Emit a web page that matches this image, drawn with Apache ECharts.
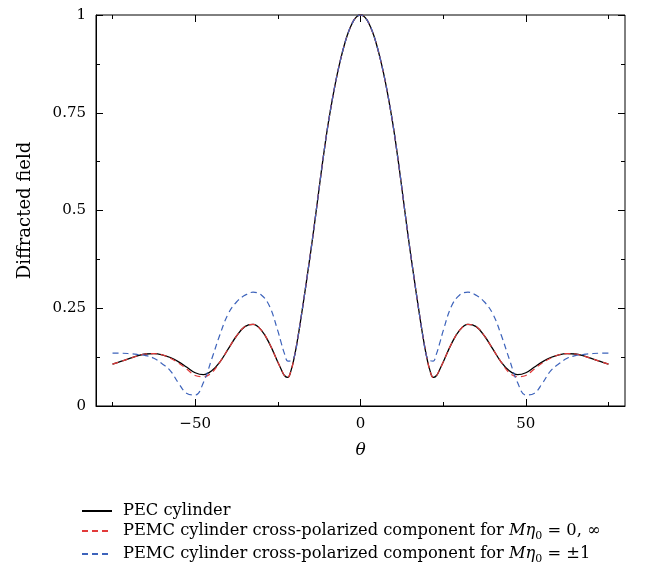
<!DOCTYPE html>
<html>
  <head>
    <meta charset="utf-8" />
    <title>Diffracted field</title>
    <script src="https://cdn.jsdelivr.net/npm/echarts@6/dist/echarts.min.js"></script>
  </head>
  <body style="margin:0;background:#fff;">
    <div id="container" style="width:645px;height:576px;"></div>

    <script type="text/javascript">
    // theta in degrees
    var thetaDeg = [-75,-72.5,-70,-67.5,-65,-62.5,-60,-57.5,-55,-52.5,-50,-47.5,-45,-42.5,-40,-37.5,-35,-32.5,-30,-27.5,
        -25,-24,-23,-22,-21,-20,-19,-18,-17,-16,-15,-14,-13,-12,-11,-10,-9,-8,-7,-6,-5,-4,-3,-2,-1,
        0,1,2,3,4,5,6,7,8,9,10,11,12,13,14,15,16,17,18,19,20,21,22,23,24,25,
        27.5,30,32.5,35,37.5,40,42.5,45,47.5,50,52.5,55,57.5,60,62.5,65,67.5,70,72.5,75];

    // PEC cylinder
    var pecField = [0.107,0.114,0.121,0.128,0.133,0.134,0.131,0.124,0.113,0.099,0.085,0.080,0.090,0.113,0.146,0.179,0.203,0.209,0.194,0.159,
        0.112,0.094,0.078,0.073,0.091,0.126,0.172,0.225,0.281,0.339,0.398,0.460,0.525,0.590,0.652,0.710,0.761,0.808,0.850,0.887,0.920,0.948,0.970,0.987,0.997,
        1.000,0.997,0.987,0.970,0.948,0.920,0.887,0.850,0.808,0.761,0.710,0.652,0.590,0.525,0.460,0.398,0.339,0.281,0.225,0.172,0.126,0.091,0.073,0.078,0.094,0.112,
        0.159,0.194,0.209,0.203,0.179,0.146,0.113,0.090,0.080,0.085,0.099,0.113,0.124,0.131,0.134,0.133,0.128,0.121,0.114,0.107];

    // PEMC, M*eta0 = 0, inf
    var pemcZeroInf = [0.107,0.114,0.121,0.128,0.133,0.134,0.131,0.122,0.110,0.094,0.078,0.075,0.085,0.113,0.146,0.179,0.203,0.209,0.194,0.159,
        0.112,0.094,0.078,0.073,0.091,0.126,0.172,0.225,0.281,0.339,0.398,0.460,0.525,0.590,0.652,0.710,0.761,0.808,0.850,0.887,0.920,0.948,0.970,0.987,0.997,
        1.000,0.997,0.987,0.970,0.948,0.920,0.887,0.850,0.808,0.761,0.710,0.652,0.590,0.525,0.460,0.398,0.339,0.281,0.225,0.172,0.126,0.091,0.073,0.078,0.094,0.112,
        0.159,0.194,0.209,0.203,0.179,0.146,0.113,0.085,0.075,0.078,0.094,0.110,0.122,0.131,0.134,0.133,0.128,0.121,0.114,0.107];

    // PEMC, M*eta0 = +-1
    var pemcPlusMinusOne = [0.135,0.135,0.134,0.132,0.129,0.122,0.108,0.090,0.058,0.032,0.028,0.060,0.120,0.183,0.236,0.266,0.283,0.291,0.284,0.255,
        0.192,0.162,0.134,0.115,0.116,0.127,0.172,0.225,0.281,0.339,0.398,0.460,0.525,0.590,0.652,0.710,0.761,0.808,0.850,0.887,0.920,0.948,0.970,0.987,0.997,
        1.000,0.997,0.987,0.970,0.948,0.920,0.887,0.850,0.808,0.761,0.710,0.652,0.590,0.525,0.460,0.398,0.339,0.281,0.225,0.172,0.127,0.116,0.115,0.134,0.162,0.192,
        0.255,0.284,0.291,0.283,0.266,0.236,0.183,0.120,0.060,0.028,0.032,0.058,0.090,0.108,0.122,0.129,0.132,0.134,0.135,0.135];

    var xMajorTicks = [-50, 0, 50];
    var xMinorTicks = [-75, -25, 25, 75];

    var serif = '"DejaVu Serif", "Liberation Serif", serif';

    function pairs(vals) {
        return thetaDeg.map(function (t, i) { return [t, vals[i]]; });
    }

    // tick-only x axis (no labels), used for minor ticks and the top edge
    function tickAxis(pos, ticks, len) {
        return {
            type: 'value', position: pos, min: -80, max: 80,
            axisLine: { show: false, onZero: false },
            axisTick: { show: true, inside: true, length: len, customValues: ticks,
                lineStyle: { color: '#000', width: 1 } },
            axisLabel: { show: false },
            splitLine: { show: false }
        };
    }

    var myChart = echarts.init(document.getElementById('container'));
    var option = {
        backgroundColor: '#fff',
        animation: false,
        grid: {
            left: 96, right: 20, top: 15, bottom: 170,
            show: true, borderColor: '#000', borderWidth: 1
        },
        xAxis: [
            {
                type: 'value', position: 'bottom', min: -80, max: 80,
                name: 'θ', nameLocation: 'middle', nameGap: 36,
                nameTextStyle: { fontFamily: serif, fontSize: 17, fontStyle: 'italic', color: '#000' },
                axisLine: { show: true, onZero: false, lineStyle: { color: '#000', width: 1 } },
                axisTick: { show: true, inside: true, length: 7, customValues: xMajorTicks,
                    lineStyle: { color: '#000', width: 1 } },
                axisLabel: {
                    customValues: xMajorTicks, margin: 11,
                    fontFamily: serif, fontSize: 15, color: '#000',
                    formatter: function (v) { return v < 0 ? '\u2212' + Math.abs(v) : String(v); }
                },
                splitLine: { show: false }
            },
            tickAxis('bottom', xMinorTicks, 4),
            tickAxis('top', xMajorTicks, 7),
            tickAxis('top', xMinorTicks, 4)
        ],
        yAxis: [
            {
                type: 'value', position: 'left', min: 0, max: 1, interval: 0.25,
                name: 'Diffracted field', nameLocation: 'middle', nameGap: 62,
                nameTextStyle: { fontFamily: serif, fontSize: 18, color: '#000' },
                axisLine: { show: true, onZero: false, lineStyle: { color: '#000', width: 1 } },
                axisTick: { show: true, inside: true, length: 7, lineStyle: { color: '#000', width: 1 } },
                minorTick: { show: true, splitNumber: 2, length: 4, lineStyle: { color: '#000', width: 1 } },
                axisLabel: { margin: 10, fontFamily: serif, fontSize: 15, color: '#000' },
                splitLine: { show: false }
            },
            {
                type: 'value', position: 'right', min: 0, max: 1, interval: 0.25,
                axisLine: { show: false, onZero: false },
                axisTick: { show: true, inside: true, length: 7, lineStyle: { color: '#000', width: 1 } },
                minorTick: { show: true, splitNumber: 2, length: 4, lineStyle: { color: '#000', width: 1 } },
                axisLabel: { show: false },
                splitLine: { show: false }
            }
        ],
        legend: {
            orient: 'vertical', left: 76, top: 498,
            itemWidth: 30, itemHeight: 12, itemGap: 4,
            itemStyle: { opacity: 0 },
            data: ['pec', 'pemc0', 'pemc1'],
            textStyle: {
                fontFamily: serif, fontSize: 16.3, color: '#000', padding: [0, 0, 0, 6],
                rich: {
                    t: { fontFamily: serif, fontSize: 16.3, color: '#000', lineHeight: 22 },
                    i: { fontFamily: serif, fontSize: 16.3, color: '#000', fontStyle: 'italic', lineHeight: 22 },
                    s: { fontFamily: serif, fontSize: 11, color: '#000', lineHeight: 11, verticalAlign: 'bottom' }
                }
            },
            formatter: function (name) {
                if (name === 'pec') return '{t|PEC cylinder}';
                if (name === 'pemc0') return '{t|PEMC cylinder cross-polarized component for }{i|Mη}{s|0}{t| = 0, ∞}';
                return '{t|PEMC cylinder cross-polarized component for }{i|Mη}{s|0}{t| = ±1}';
            }
        },
        series: [
            {
                name: 'pec', type: 'line', data: pairs(pecField),
                showSymbol: false, symbol: 'none', smooth: 0.4,
                lineStyle: { color: '#000', width: 1.3 },
                itemStyle: { color: '#000' }
            },
            {
                name: 'pemc0', type: 'line', data: pairs(pemcZeroInf),
                showSymbol: false, symbol: 'none', smooth: 0.4,
                lineStyle: { color: '#e23a3a', width: 1.2, type: [6, 4] },
                itemStyle: { color: '#e23a3a' }
            },
            {
                name: 'pemc1', type: 'line', data: pairs(pemcPlusMinusOne),
                showSymbol: false, symbol: 'none', smooth: 0.4,
                lineStyle: { color: '#3d63bb', width: 1.2, type: [6, 4] },
                itemStyle: { color: '#3d63bb' }
            }
        ]
    };
    myChart.setOption(option);

    window.addEventListener('resize', myChart.resize);
    </script>
  </body>
</html>
